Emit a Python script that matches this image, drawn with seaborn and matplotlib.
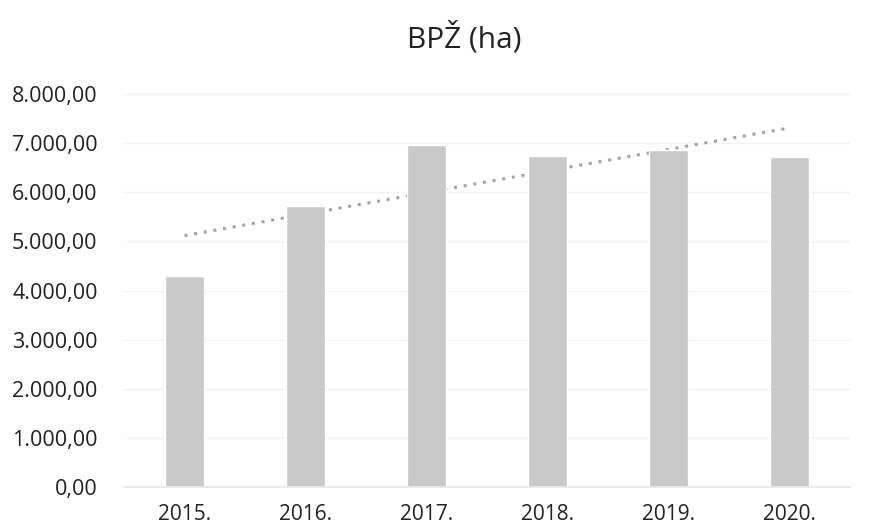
import numpy as np
import pandas as pd
import matplotlib
matplotlib.use("Agg")
import matplotlib.pyplot as plt
import seaborn as sns
from matplotlib.ticker import FuncFormatter

years = ["2015.", "2016.", "2017.", "2018.", "2019.", "2020."]
values = [4290, 5710, 6970, 6730, 6860, 6720]
title = "BPŽ (ha)"

sns.set_theme(style="white")
plt.rcParams['font.family'] = ['Open Sans', 'DejaVu Sans']

df = pd.DataFrame({"year": years, "value": values})

fig = plt.figure(figsize=(8.95, 5.29), dpi=100)
ax = fig.add_axes([124/895, 1-487/529, (850-124)/895, (487-94)/529])

# linear trendline (behind bars)
xs = np.arange(len(values))
coef = np.polyfit(xs, values, 1)
ax.plot(xs, np.polyval(coef, xs), linestyle=(0, (1, 2.2)), color="#a3a3a3",
        linewidth=2.2, zorder=1)

sns.barplot(data=df, x="year", y="value", color="#c9c9c9", width=0.33,
            saturation=1, ax=ax, zorder=2)

ax.set_ylim(0, 8000)
ax.set_xlim(-0.5, 5.5)
ax.set_yticks(np.arange(0, 8001, 1000))

def fmt(v, pos):
    s = f"{v:,.2f}"
    return s.replace(",", "X").replace(".", ",").replace("X", ".")

ax.yaxis.set_major_formatter(FuncFormatter(fmt))
ax.grid(axis="y", color="#f2f2f2", linewidth=1, zorder=0)
ax.set_axisbelow(True)
for s in ["top", "right", "left"]:
    ax.spines[s].set_visible(False)
ax.spines["bottom"].set_color("#e8e8e8")
ax.set_xlabel("")
ax.set_ylabel("")
ax.tick_params(axis="y", labelsize=15.5, colors="#222222", pad=19, length=0)
ax.tick_params(axis="x", labelsize=15, colors="#222222", pad=12, length=0)

fig.text(464/895, 1-38/529, title, ha="center", va="center", fontsize=21.5, color="#222222")

fig.savefig("out.png", dpi=100)
